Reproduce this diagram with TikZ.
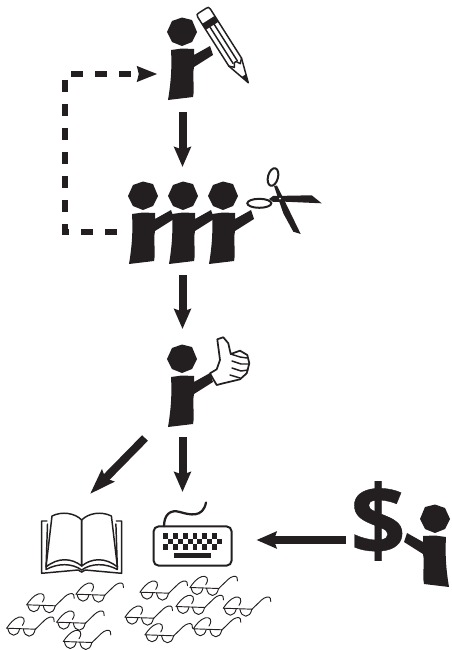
\documentclass[tikz,border=0pt]{standalone}
\usepackage{fontspec}
\usepackage{tikz}
\usetikzlibrary{arrows.meta,calc}
\newfontfamily\dollarfont{Open Sans}[BoldFeatures={FakeBold=0.4}]
\definecolor{ink}{HTML}{231F20}
\tikzset{
  inkline/.style={draw=ink, line width=1.1pt, line join=round, line cap=round},
  thinline/.style={draw=ink, line width=0.7pt, line join=round, line cap=round},
  bigarrow/.style={draw=ink, line width=6pt, -{Stealth[length=15pt,width=12.5pt,inset=2pt]}},
  widearrow/.style={draw=ink, line width=6pt, -{Stealth[length=19pt,width=12.5pt,inset=2.5pt]}},
  dasharrow/.style={draw=ink, line width=5pt, dash pattern=on 9pt off 9pt, -{Stealth[length=15pt,width=11pt,inset=1pt,sep=0pt]}},
  person/.pic={
    \fill[ink] (0,-14.5) -- (10,-12) -- (15,0) -- (10,10) -- (0,14) -- (-10,10) -- (-15,0) -- (-10,-11) -- cycle;
    \fill[ink] (-11,18) -- (0,16.5) -- (12,17) -- (12,23) -- (28,14) -- (31,23) -- (12,35)
      .. controls (10,45) and (13,55) .. (11,65) -- (-14,68)
      .. controls (-11,50) and (-10,35) .. cycle;
  },
  specs/.pic={
    \draw[thinline] (0,11.5) -- (29,12.5);
    \draw[thinline] (1,11.5) .. controls (2,16) and (4,18.5) .. (7,18.5) .. controls (10,18.5) and (12,16) .. (13,12);
    \draw[thinline] (16.5,12.2) .. controls (17.5,17) and (19.5,19.5) .. (22.5,19.5) .. controls (25.5,19.5) and (27.5,17) .. (28.5,12.7);
    \draw[thinline] (0,11.5) .. controls (3,7) and (7,2) .. (12,0.5) .. controls (16,-0.5) and (20,2) .. (15.7,8.7);
    \draw[thinline] (28.5,12.7) -- (38,3.5) .. controls (41,0.5) and (46,-1) .. (47,1.5) .. controls (47.7,3) and (47.7,4) .. (47.5,5);
  },
}
\begin{document}
\begin{tikzpicture}[x=0.75pt,y=-0.75pt]
  \useasboundingbox (0,0) rectangle (452,650);

  \coordinate (writerleft) at (157.5,74);
  \coordinate (writersouth) at (182.5,112);
  \coordinate (editnorth) at (182.5,167);
  \coordinate (editwest) at (117,232);
  \coordinate (dashcorner) at (65,74);
  \coordinate (dashlow) at (65,232);
  \coordinate (editsouth) at (182.5,275);
  \coordinate (approvenorth) at (182.5,329);
  \coordinate (approvesouth) at (182.5,437);
  \coordinate (approvewest) at (145,438);
  \coordinate (booknorth) at (90,494);
  \coordinate (keysnorth) at (182.5,492);
  \coordinate (keyseast) at (256.5,540);
  \coordinate (payerwest) at (346,540);

  \pic at (182,32) {person};
  \pic at (143,196) {person};
  \pic at (183,196) {person};
  \pic at (223,196) {person};
  \pic at (182,359) {person};
  \pic[xscale=-1] at (435,519) {person};

  \begin{scope}[shift={(202.5,10.6)},rotate=-57.6]
    \draw[inkline,fill=white] (3,-7.5) -- (61,-7.5) -- (85.4,0) -- (61,7.5) -- (3,7.5)
      .. controls (0,7.5) and (0,6.5) .. (0,4) -- (0,-4) .. controls (0,-6.5) and (0,-7.5) .. (3,-7.5) -- cycle;
    \fill[ink] (11,-7.5) rectangle (18,7.5);
    \draw[inkline] (18,-2.5) -- (61,-2.5);
    \draw[inkline] (18,2.5) -- (61,2.5);
    \draw[inkline] (61,-7.5) -- (65,-3.5) -- (61,-1) -- (61,1) -- (65,3.5) -- (61,7.5);
    \fill[ink] (77,-2.6) -- (85.4,0) -- (77,2.6) -- cycle;
  \end{scope}

  \draw[line width=1.5pt,draw=ink,fill=white,rotate around={-15:(273,177)}] (273,177) ellipse (5 and 9);
  \draw[line width=1.5pt,draw=ink,fill=white] (259.3,203.3) ellipse (12 and 4.5);
  \fill[ink] (274,186) -- (277,185.5) -- (285,201.7) -- (300.7,234) -- (293.3,231.7) -- (283.3,213.3) -- (279.3,201.7) -- cycle;
  \fill[ink] (269,199) -- (273,196) -- (311.7,195.3) -- (321.7,203.3) -- (285,201.7) -- (273.3,202) -- cycle;
  \fill[white] (280,198.7) circle (1);

  \draw[inkline,line width=1.3pt,fill=white] (210,373.3) -- (216.7,369.3) -- (220,360) .. controls (219,352) and (218,345) .. (217.3,339.3)
    -- (223.3,337.3) -- (228.3,343.3) -- (230.7,354) -- (240,350.7) -- (247.3,355) -- (249.3,363.3) -- (246.7,373.3)
    -- (240,379.3) -- (230,381.7) -- (223.3,383.3) -- (216.7,385) -- (212.7,378.3) -- cycle;
  \draw[inkline] (230.7,354) -- (240,357) -- (247,358);
  \draw[inkline] (232,361) -- (241,364) -- (249,364);
  \draw[inkline] (232,368) -- (241,371) -- (248,370);
  \draw[inkline] (230,375) -- (240,378);

  \foreach \side/\mid in {1/0,-1/163.4} {
    \begin{scope}[xshift=\mid*0.75pt,xscale=\side]
      \draw[inkline] (52,516) .. controls (62,511) and (75,513) .. (81.7,520) -- (81.7,566)
        .. controls (72,558) and (58,557) .. (46,567) -- cycle;
      \draw[inkline] (47,521) -- (41.7,521) -- (41.7,573.3) -- (78,570) -- (81.7,572);
      \draw[inkline] (47.5,524) -- (46,569.5) .. controls (58,563) and (72,563) .. (81.7,570);
    \end{scope}
  }

  \draw[inkline,line width=1.5pt,rounded corners=4pt] (153.5,526.3) rectangle (231.7,565.7);
  \draw[inkline,line width=1.7pt] (164,526.3) .. controls (164,515) and (170,509) .. (180,512)
    .. controls (190,515) and (203,518) .. (206,502.5);
  \foreach \col in {0,...,11} {
    \foreach \row in {0,1,2} {
      \pgfmathtruncatemacro\oddkey{mod(\col+\row,2)}
      \ifnum\oddkey=0
        \fill[ink] (163.3+\col*4.87,533+\row*5.5) rectangle +(4.87,5.5);
      \fi
    }
  }
  \fill[ink] (174,553) rectangle (211,558);

  \foreach \specx/\specy in {26.7/593.3,76/582.7,6.7/616.7,56.7/610.7,63.3/630,140/580.7,190/576,125/605.7,176/595,223.3/596.7,145/623.3,193.3/617.3} {
    \pic at (\specx,\specy) {specs};
  }

  \node[font=\dollarfont\bfseries\fontsize{73pt}{73pt}\selectfont,text=ink,inner sep=0pt] (dollar) at (378,521) {\$};

  \draw[bigarrow] (writersouth) -- (editnorth);
  \draw[bigarrow] (editsouth) -- (approvenorth);
  \draw[bigarrow] (approvesouth) -- (keysnorth);
  \draw[widearrow] (approvewest) -- (booknorth);
  \draw[bigarrow] (payerwest) -- (keyseast);
  \draw[dasharrow] (editwest) -- (dashlow) -- (dashcorner) -- (writerleft);
\end{tikzpicture}
\end{document}
